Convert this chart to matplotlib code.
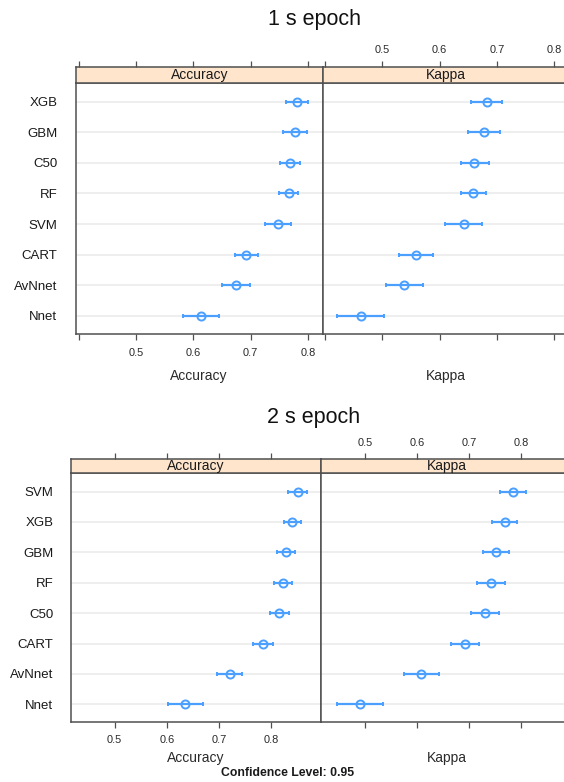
import matplotlib
matplotlib.use("Agg")
import matplotlib.pyplot as plt
import numpy as np

plt.rcParams['font.family'] = ['Liberation Sans', 'DejaVu Sans']

# ---- data ----
models_1s = ["XGB", "GBM", "C50", "RF", "SVM", "CART", "AvNnet", "Nnet"]
acc_1s = [0.781, 0.777, 0.768, 0.767, 0.748, 0.692, 0.675, 0.614]
acc_1s_lo = [0.762, 0.756, 0.752, 0.750, 0.726, 0.672, 0.650, 0.583]
acc_1s_hi = [0.800, 0.798, 0.786, 0.783, 0.771, 0.713, 0.699, 0.645]
kap_1s = [0.682, 0.678, 0.660, 0.658, 0.642, 0.559, 0.538, 0.462]
kap_1s_lo = [0.655, 0.650, 0.637, 0.637, 0.610, 0.529, 0.506, 0.421]
kap_1s_hi = [0.708, 0.706, 0.686, 0.681, 0.674, 0.589, 0.571, 0.503]

models_2s = ["SVM", "XGB", "GBM", "RF", "C50", "CART", "AvNnet", "Nnet"]
acc_2s = [0.851, 0.841, 0.829, 0.823, 0.815, 0.785, 0.721, 0.635]
acc_2s_lo = [0.833, 0.825, 0.812, 0.805, 0.798, 0.766, 0.696, 0.603]
acc_2s_hi = [0.869, 0.857, 0.847, 0.841, 0.834, 0.803, 0.744, 0.669]
kap_2s = [0.784, 0.769, 0.752, 0.741, 0.730, 0.691, 0.608, 0.490]
kap_2s_lo = [0.758, 0.744, 0.727, 0.715, 0.703, 0.665, 0.575, 0.446]
kap_2s_hi = [0.808, 0.792, 0.776, 0.768, 0.757, 0.719, 0.641, 0.535]

titles = ["1 s epoch", "2 s epoch"]
panel_names = ["Accuracy", "Kappa"]
conf_text = "Confidence Level: 0.95"

W, H = 564, 782
fig = plt.figure(figsize=(W / 100, H / 100), dpi=100)

BLUE = "#4a9fff"
BORDER = "#505050"
STRIP = "#ffe5cc"
TXT = "#2a2a2a"


def rect(x0, y0, x1, y1):
    return [x0 / W, 1 - y1 / H, (x1 - x0) / W, (y1 - y0) / H]


def panel(xpx, ytop_strip, ytop, ybot, xlim, ticks, allticks, models, vals, lo, hi,
          name, ylabels, ylabel_pad, bottom_labels, top_labels, bot_pad, top_pad):
    n = len(models)
    ax = fig.add_axes(rect(xpx[0], ytop, xpx[1], ybot))
    ys = np.arange(n, 0, -1)
    for y in ys:
        ax.axhline(y, color="#ebebeb", lw=1.2, zorder=0)
    v = np.array(vals)
    ax.errorbar(v, ys, xerr=[v - np.array(lo), np.array(hi) - v], fmt='o',
                color=BLUE, ecolor=BLUE, mfc='none', mec=BLUE, ms=5.8, mew=1.4,
                elinewidth=1.6, capsize=1.5, capthick=1.3, zorder=3)
    ax.set_xlim(*xlim)
    ax.set_ylim(0.41, 8.6)
    for s in ax.spines.values():
        s.set_color(BORDER)
        s.set_linewidth(1.1)
    ax.set_xticks(allticks)
    ax.set_xticklabels([f"{t:.1f}" if (bottom_labels and t in ticks) else "" for t in allticks],
                       fontsize=7.9, color=TXT)
    ax.tick_params(axis='x', direction='out', length=4.5, width=0.9, color=BORDER, pad=bot_pad)
    if ylabels:
        ax.set_yticks(ys)
        ax.set_yticklabels(models, fontsize=9.5, color="#1a1a1a")
        ax.tick_params(axis='y', length=0, pad=ylabel_pad)
    else:
        ax.set_yticks([])
    # strip
    sa = fig.add_axes(rect(xpx[0], ytop_strip, xpx[1], ytop))
    sa.set_facecolor(STRIP)
    sa.set_xlim(*xlim)
    sa.set_yticks([])
    for s in sa.spines.values():
        s.set_color(BORDER)
        s.set_linewidth(1.1)
    sa.xaxis.tick_top()
    sa.set_xticks(allticks)
    sa.set_xticklabels([f"{t:.1f}" if (top_labels and t in ticks) else "" for t in allticks],
                       fontsize=7.9, color=TXT)
    sa.tick_params(axis='x', direction='out', length=4.5, width=0.9, color=BORDER, pad=top_pad,
                   top=True, bottom=False, labeltop=True, labelbottom=False)
    sa.text(0.5, 0.5, name, transform=sa.transAxes, ha='center', va='center',
            fontsize=10, color="#1a1a1a")
    return ax


# ---- top figure (1 s epoch) ----
xl1 = (0.3955, 0.8255)
tk = [0.5, 0.6, 0.7, 0.8]
tk1_all = [0.4, 0.5, 0.6, 0.7, 0.8]
panel((76, 322.5), 66.7, 83.3, 334, xl1, tk, tk1_all, models_1s, acc_1s, acc_1s_lo, acc_1s_hi,
      panel_names[0], True, 13.5, True, False, 5.5, 4)
panel((322.5, 569), 66.7, 83.3, 334, xl1, tk, tk1_all, models_1s, kap_1s, kap_1s_lo, kap_1s_hi,
      panel_names[1], False, 0, False, True, 5.5, 4)

fig.text(314 / W, 1 - 24.5 / H, titles[0], ha='center', va='baseline', fontsize=15.5, color="#111111")
fig.text(199 / W, 1 - 376 / H, panel_names[0], ha='center', va='center', fontsize=10, color=TXT)
fig.text(445.5 / W, 1 - 376 / H, panel_names[1], ha='center', va='center', fontsize=10, color=TXT)

# ---- bottom figure (2 s epoch) ----
xl2 = (0.4155, 0.8965)
panel((70.7, 321.2), 459, 473.3, 722.3, xl2, tk, tk, models_2s, acc_2s, acc_2s_lo, acc_2s_hi,
      panel_names[0], True, 12.4, True, False, 5, 3.4)
panel((321.2, 571.7), 459, 473.3, 722.3, xl2, tk, tk, models_2s, kap_2s, kap_2s_lo, kap_2s_hi,
      panel_names[1], False, 0, False, True, 5, 3.4)

fig.text(314 / W, 1 - 423.5 / H, titles[1], ha='center', va='baseline', fontsize=15.5, color="#111111")
fig.text(196 / W, 1 - 758 / H, panel_names[0], ha='center', va='center', fontsize=10, color=TXT)
fig.text(446.5 / W, 1 - 758 / H, panel_names[1], ha='center', va='center', fontsize=10, color=TXT)
fig.text(287.5 / W, 1 - 773 / H, conf_text, ha='center', va='center', fontsize=8.8,
         fontweight='bold', color="#1a1a1a")

fig.savefig("out.png", dpi=100)
